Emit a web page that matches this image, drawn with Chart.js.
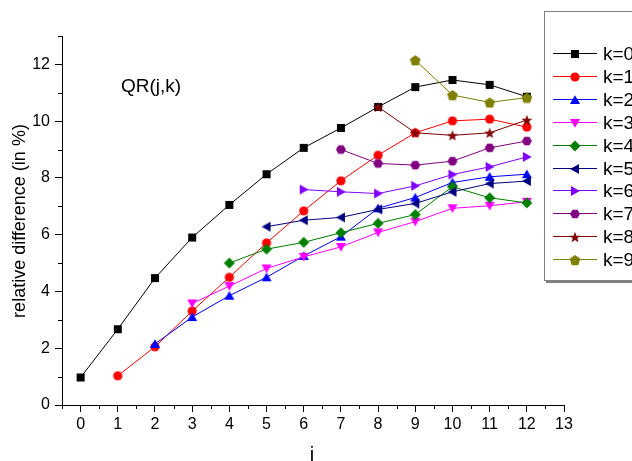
<!DOCTYPE html>
<html>
<head>
<meta charset="utf-8">
<script src="https://cdn.jsdelivr.net/npm/chart.js@4.4.0/dist/chart.umd.min.js"></script>
<style>
  html, body { margin: 0; padding: 0; background: #fff; }
  #wrap { width: 632px; height: 461px; position: relative; }
</style>
</head>
<body>
<div id="wrap"><canvas id="myChart" width="632" height="461"></canvas></div>
<script>
// i values on the x axis; series k starts at i = k
var iValues = [0, 1, 2, 3, 4, 5, 6, 7, 8, 9, 10, 11, 12];
var seriesNames = ['k=0', 'k=1', 'k=2', 'k=3', 'k=4', 'k=5', 'k=6', 'k=7', 'k=8', 'k=9'];

var k0 = [0.97, 2.67, 4.47, 5.90, 7.05, 8.13, 9.06, 9.76, 10.50, 11.20, 11.45, 11.28, 10.86];
var k1 = [1.03, 2.05, 3.31, 4.50, 5.71, 6.84, 7.90, 8.80, 9.59, 10.01, 10.07, 9.79];
var k2 = [2.15, 3.10, 3.85, 4.50, 5.25, 5.93, 6.93, 7.31, 7.84, 8.04, 8.13];
var k3 = [3.58, 4.19, 4.81, 5.22, 5.57, 6.08, 6.46, 6.93, 7.02, 7.16];
var k4 = [5.00, 5.49, 5.73, 6.07, 6.40, 6.71, 7.69, 7.30, 7.12];
var k5 = [6.28, 6.51, 6.61, 6.89, 7.10, 7.51, 7.80, 7.89];
var k6 = [7.59, 7.51, 7.45, 7.72, 8.12, 8.39, 8.74];
var k7 = [9.00, 8.51, 8.45, 8.59, 9.06, 9.30];
var k8 = [10.50, 9.59, 9.50, 9.59, 10.04];
var k9 = [12.15, 10.92, 10.66, 10.83];
var allSeries = [k0, k1, k2, k3, k4, k5, k6, k7, k8, k9];

var xTicks = [0, 1, 2, 3, 4, 5, 6, 7, 8, 9, 10, 11, 12, 13];
var yTicks = [0, 2, 4, 6, 8, 10, 12];

var colors = ['#000000', '#ff0000', '#0000ff', '#ff00ff', '#008000',
              '#000080', '#8000ff', '#800080', '#800000', '#808000'];
var shapes = ['square', 'circle', 'up', 'down', 'diamond',
              'left', 'right', 'hexagon', 'star', 'pentagon'];

// little canvases used as point markers (chart and legend)
function polygon(c, cx, cy, r, n, start) {
    c.beginPath();
    for (var j = 0; j < n; j++) {
        var a = start + j * 2 * Math.PI / n;
        var px = cx + r * Math.cos(a), py = cy + r * Math.sin(a);
        if (j == 0) c.moveTo(px, py); else c.lineTo(px, py);
    }
    c.closePath();
    c.fill();
}

function makeMarker(shape, color) {
    var cv = document.createElement('canvas');
    cv.width = 12; cv.height = 12;
    var c = cv.getContext('2d');
    c.fillStyle = color;
    var m = 6;
    if (shape == 'square') {
        c.fillRect(2, 2, 8, 8);
    } else if (shape == 'circle') {
        c.beginPath(); c.arc(m, m, 4.6, 0, 2 * Math.PI); c.fill();
    } else if (shape == 'up') {
        c.beginPath(); c.moveTo(m, 1.2); c.lineTo(11, 10); c.lineTo(1, 10); c.closePath(); c.fill();
    } else if (shape == 'down') {
        c.beginPath(); c.moveTo(1, 2); c.lineTo(11, 2); c.lineTo(m, 10.8); c.closePath(); c.fill();
    } else if (shape == 'diamond') {
        c.beginPath(); c.moveTo(m, 0.5); c.lineTo(11.5, m); c.lineTo(m, 11.5); c.lineTo(0.5, m); c.closePath(); c.fill();
    } else if (shape == 'left') {
        c.beginPath(); c.moveTo(1.2, m); c.lineTo(10, 1); c.lineTo(10, 11); c.closePath(); c.fill();
    } else if (shape == 'right') {
        c.beginPath(); c.moveTo(10.8, m); c.lineTo(2, 1); c.lineTo(2, 11); c.closePath(); c.fill();
    } else if (shape == 'hexagon') {
        polygon(c, m, m, 5, 6, 0);
    } else if (shape == 'star') {
        c.beginPath();
        for (var j = 0; j < 10; j++) {
            var r = (j % 2 == 0) ? 5.8 : 2.4;
            var a = -Math.PI / 2 + j * Math.PI / 5;
            var px = m + r * Math.cos(a), py = m + 0.6 + r * Math.sin(a);
            if (j == 0) c.moveTo(px, py); else c.lineTo(px, py);
        }
        c.closePath(); c.fill();
    } else if (shape == 'pentagon') {
        polygon(c, m, m + 0.6, 5.6, 5, -Math.PI / 2);
    }
    return cv;
}

var markers = [];
for (var s = 0; s < shapes.length; s++) {
    markers.push(makeMarker(shapes[s], colors[s]));
}

function buildPoints(k) {
    var pts = [];
    var vals = allSeries[k];
    for (var j = 0; j < vals.length; j++) {
        pts.push({x: iValues[k + j], y: vals[j]});
    }
    return pts;
}

var datasets = [];
for (var k = 0; k < allSeries.length; k++) {
    datasets.push({
        label: seriesNames[k],
        data: buildPoints(k),
        borderColor: colors[k],
        backgroundColor: colors[k],
        borderWidth: 1,
        pointStyle: markers[k],
        pointRadius: 6,
        pointHoverRadius: 6,
        order: allSeries.length - 1 - k,
        tension: 0
    });
}

var FONT = 'Liberation Sans, Arial, sans-serif';

var extras = {
    id: 'extras',
    beforeDraw: function (chart) {
        var c = chart.ctx;
        c.save();
        c.fillStyle = '#fff';
        c.fillRect(0, 0, chart.width, chart.height);
        c.restore();
    },
    afterDraw: function (chart) {
        var c = chart.ctx;
        var xs = chart.scales.x, ys = chart.scales.y;
        var area = chart.chartArea;
        c.save();
        c.strokeStyle = '#000';
        c.lineWidth = 1;
        // minor ticks
        c.beginPath();
        for (var v = -0.5; v <= 12.5; v += 1) {
            var px = Math.round(xs.getPixelForValue(v)) + 0.5;
            c.moveTo(px, area.bottom); c.lineTo(px, area.bottom + 4);
        }
        for (var w = 1; w <= 13; w += 2) {
            var py = Math.round(ys.getPixelForValue(w)) + 0.5;
            c.moveTo(area.left - 4, py); c.lineTo(area.left, py);
        }
        c.stroke();

        // texts
        c.fillStyle = '#000';
        c.font = '19px ' + FONT;
        c.textAlign = 'left';
        c.textBaseline = 'alphabetic';
        c.fillText('QR(j,k)', 121, 92);

        c.font = '20px ' + FONT;
        c.textAlign = 'center';
        c.fillText('i', 312, 461);

        c.save();
        c.translate(25, 221);
        c.rotate(-Math.PI / 2);
        c.font = '18px ' + FONT;
        c.textBaseline = 'alphabetic';
        c.fillText('relative difference (in %)', 0, 0);
        c.restore();

        // legend box
        c.fillStyle = '#808080';
        c.fillRect(546, 281, 90, 2);
        c.fillStyle = '#fff';
        c.fillRect(544, 11, 92, 270);
        c.strokeStyle = '#808080';
        c.strokeRect(544.5, 11.5, 92, 269);
        c.font = '19px ' + FONT;
        c.textAlign = 'left';
        c.textBaseline = 'middle';
        for (var k = 0; k < seriesNames.length; k++) {
            var ly = Math.round(53 + k * 22.9) + 0.5;
            c.strokeStyle = colors[k];
            c.beginPath();
            c.moveTo(553, ly); c.lineTo(597, ly);
            c.stroke();
            c.drawImage(markers[k], 575 - 6, Math.round(ly) - 6);
            c.fillStyle = '#000';
            c.fillText(seriesNames[k], 603, ly + 1);
        }
        c.restore();
    }
};

var ctx = document.getElementById("myChart");
var myChart = new Chart(ctx, {
    type: 'line',
    data: {datasets: datasets},
    options: {
        responsive: false,
        animation: false,
        events: [],
        layout: {padding: {top: 36, right: 68, left: 0, bottom: 0}},
        plugins: {legend: {display: false}, tooltip: {enabled: false}},
        scales: {
            x: {
                type: 'linear',
                min: -0.5,
                max: 13,
                afterBuildTicks: function (scale) {
                    scale.ticks = xTicks.map(function (v) { return {value: v}; });
                },
                afterFit: function (scale) { scale.height = 56; },
                border: {display: true, color: '#000', width: 1},
                grid: {drawOnChartArea: false, drawTicks: true, tickLength: 7, color: '#000'},
                ticks: {color: '#000', font: {size: 16, family: FONT}, padding: 3, maxRotation: 0}
            },
            y: {
                type: 'linear',
                min: 0,
                max: 13,
                afterBuildTicks: function (scale) {
                    scale.ticks = yTicks.map(function (v) { return {value: v}; });
                },
                afterFit: function (scale) { scale.width = 62; },
                border: {display: true, color: '#000', width: 1},
                grid: {drawOnChartArea: false, drawTicks: true, tickLength: 7, color: '#000'},
                ticks: {color: '#000', font: {size: 16, family: FONT}, padding: 5}
            }
        }
    },
    plugins: [extras]
});
</script>
</body>
</html>
